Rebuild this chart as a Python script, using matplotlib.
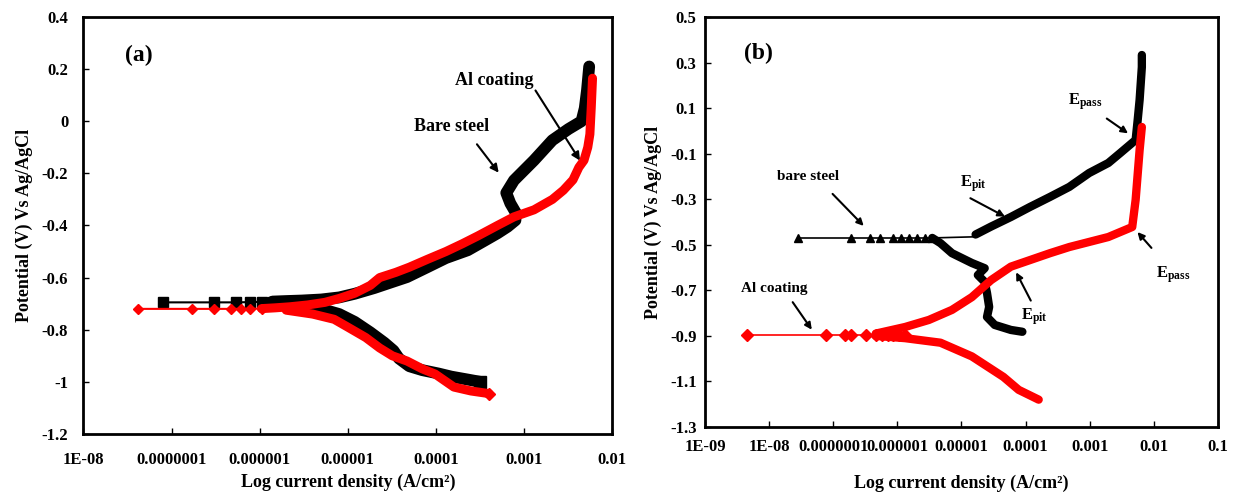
import matplotlib
matplotlib.use('Agg')
import matplotlib.pyplot as plt
import numpy as np

plt.rcParams['font.family'] = ['Liberation Serif', 'DejaVu Serif']
plt.rcParams['font.weight'] = 'bold'
plt.rcParams['mathtext.fontset'] = 'custom'
plt.rcParams['mathtext.rm'] = 'Liberation Serif'
plt.rcParams['mathtext.bf'] = 'Liberation Serif:bold'

# ---------- panel (a) data ----------
# bare steel, sparse start (square markers)
a_bare_i0 = [8e-8, 3e-7, 5.4e-7, 7.8e-7, 1.05e-6, 1.4e-6]
a_bare_e0 = [-0.695, -0.695, -0.695, -0.694, -0.693, -0.692]
# bare steel anodic branch
a_bare_i_an = [1.4e-6, 2e-6, 3e-6, 5e-6, 8e-6, 1.2e-5, 2e-5, 3e-5, 4.7e-5, 8e-5,
               1.3e-4, 2.3e-4, 3.5e-4, 5e-4, 6.5e-4, 8e-4, 8.1e-4, 7e-4, 6.3e-4,
               7.7e-4, 1.3e-3, 2.1e-3, 3.2e-3, 4.5e-3, 4.9e-3, 5.2e-3, 5.5e-3]
a_bare_e_an = [-0.692, -0.69, -0.688, -0.684, -0.676, -0.662, -0.64, -0.62, -0.598, -0.56,
               -0.525, -0.495, -0.46, -0.43, -0.405, -0.38, -0.352, -0.315, -0.275,
               -0.227, -0.15, -0.073, -0.03, 0.0, 0.05, 0.12, 0.21]
# bare steel cathodic branch
a_bare_i_ca = [3e-6, 5e-6, 8e-6, 1.2e-5, 1.8e-5, 2.6e-5, 3.3e-5, 3.8e-5, 5e-5, 7e-5,
               1.07e-4, 1.5e-4, 2.2e-4, 3.2e-4]
a_bare_e_ca = [-0.71, -0.72, -0.74, -0.77, -0.81, -0.85, -0.88, -0.91, -0.94, -0.955,
               -0.968, -0.98, -0.99, -1.0]

# Al coating, sparse start (diamond markers)
a_al_i0 = [4.2e-8, 1.7e-7, 3e-7, 4.7e-7, 6.2e-7, 7.8e-7, 1.05e-6]
a_al_e0 = [-0.72, -0.72, -0.72, -0.72, -0.72, -0.72, -0.719]
a_al_i_an = [1.05e-6, 1.5e-6, 2.2e-6, 3.5e-6, 5.5e-6, 8e-6, 1.2e-5, 1.8e-5, 2.3e-5,
             3.5e-5, 5e-5, 8e-5, 1.3e-4, 2e-4, 3e-4, 5e-4, 7.7e-4, 1.3e-3, 2.1e-3,
             2.8e-3, 3.6e-3, 4.2e-3, 4.8e-3, 5.3e-3, 5.6e-3, 5.8e-3, 6e-3]
a_al_e_an = [-0.719, -0.716, -0.712, -0.705, -0.695, -0.68, -0.66, -0.63, -0.6,
             -0.58, -0.56, -0.53, -0.5, -0.47, -0.44, -0.4, -0.367, -0.34, -0.3,
             -0.265, -0.225, -0.177, -0.15, -0.1, -0.05, 0.05, 0.165]
a_al_i_ca = [2e-6, 4e-6, 7e-6, 1e-5, 1.6e-5, 2.3e-5, 3.2e-5, 4.7e-5, 7e-5, 9.8e-5,
             1.6e-4, 2.5e-4, 4e-4]
a_al_e_ca = [-0.725, -0.74, -0.76, -0.79, -0.83, -0.87, -0.9, -0.92, -0.95, -0.97,
             -1.02, -1.035, -1.045]

a_xticks = [1e-8, 1e-7, 1e-6, 1e-5, 1e-4, 1e-3, 1e-2]
a_xlabels = ['1E-08', '0.0000001', '0.000001', '0.00001', '0.0001', '0.001', '0.01']
a_yticks = [-1.2, -1.0, -0.8, -0.6, -0.4, -0.2, 0.0, 0.2, 0.4]
a_ylabels = ['-1.2', '-1', '-0.8', '-0.6', '-0.4', '-0.2', '0', '0.2', '0.4']

# ---------- panel (b) data ----------
b_bare_i0 = [2.8e-8, 1.86e-7, 3.7e-7, 5.4e-7, 8.7e-7, 1.15e-6, 1.5e-6, 2e-6, 2.7e-6, 3.5e-6]
b_bare_e0 = [-0.47] * 10
b_bare_i_line = [3.5e-6, 1.66e-5]
b_bare_e_line = [-0.47, -0.465]
b_bare_i_an = [1.66e-5, 2.9e-5, 5.9e-5, 1.17e-4, 2.4e-4, 4.8e-4, 9.8e-4, 1.95e-3,
               3.0e-3, 5.2e-3, 5.6e-3, 6.0e-3, 6.5e-3, 6.5e-3]
b_bare_e_an = [-0.455, -0.42, -0.378, -0.334, -0.29, -0.246, -0.185, -0.141,
               -0.097, -0.04, 0.048, 0.136, 0.28, 0.333]
b_bare_i_ca = [3.5e-6, 4.7e-6, 7.1e-6, 1.45e-5, 2.3e-5, 1.8e-5, 2.3e-5, 2.5e-5,
               2.7e-5, 2.5e-5, 3.3e-5, 5.9e-5, 8.9e-5]
b_bare_e_ca = [-0.47, -0.493, -0.537, -0.58, -0.603, -0.633, -0.663, -0.712,
               -0.773, -0.817, -0.852, -0.874, -0.882]

b_al_i0 = [4.5e-9, 7.8e-8, 1.5e-7, 1.86e-7, 3.2e-7, 4.6e-7, 5.8e-7, 7.1e-7,
           8.7e-7, 1.07e-6, 1.32e-6]
b_al_e0 = [-0.895] * 11
b_al_i_an = [4.6e-7, 1.32e-6, 3.1e-6, 7.1e-6, 1.45e-5, 2.9e-5, 5.9e-5, 2.4e-4,
             4.8e-4, 1.95e-3, 4.6e-3, 5.2e-3, 6.0e-3, 6.5e-3]
b_al_e_an = [-0.89, -0.861, -0.83, -0.786, -0.73, -0.655, -0.596, -0.537,
             -0.51, -0.466, -0.422, -0.303, -0.084, 0.017]
b_al_i_ca = [4.6e-7, 1.32e-6, 4.7e-6, 1.45e-5, 4.5e-5, 7.8e-5, 1.6e-4]
b_al_e_ca = [-0.9, -0.91, -0.93, -0.99, -1.08, -1.137, -1.18]

b_xticks = [1e-9, 1e-8, 1e-7, 1e-6, 1e-5, 1e-4, 1e-3, 1e-2, 1e-1]
b_xlabels = ['1E-09', '1E-08', '0.0000001', '0.000001', '0.00001', '0.0001',
             '0.001', '0.01', '0.1']
b_yticks = [-1.3, -1.1, -0.9, -0.7, -0.5, -0.3, -0.1, 0.1, 0.3, 0.5]
b_ylabels = ['-1.3', '-1.1', '-0.9', '-0.7', '-0.5', '-0.3', '-0.1', '0.1', '0.3', '0.5']


fig = plt.figure(figsize=(12.33, 4.99), dpi=100)
ax1 = fig.add_axes([0.0677, 0.1303, 0.4287, 0.8357])
ax2 = fig.add_axes([0.5718, 0.1443, 0.416, 0.8217])


def style_axes(ax, xt, xl, yt, yl, fs, xpad, ypad, xlpad):
    ax.set_xscale('log')
    ax.set_xticks(xt)
    ax.set_xticklabels(xl, fontsize=fs, fontweight='bold')
    ax.minorticks_off()
    ax.set_yticks(yt)
    ax.set_yticklabels(yl, fontsize=fs, fontweight='bold')
    ax.tick_params(direction='in', length=4, width=1, top=False, right=False)
    ax.tick_params(axis='x', pad=xpad)
    ax.tick_params(axis='y', pad=ypad)
    for s in ax.spines.values():
        s.set_linewidth(2)
    ax.set_xlabel('Log current density (A/cm²)', fontsize=13, fontweight='bold', labelpad=xlpad)
    ax.set_ylabel('Potential (V) Vs Ag/AgCl', fontsize=13, fontweight='bold', labelpad=6)


# panel (a)
ax1.plot(a_bare_i0, a_bare_e0, '-', color='black', lw=1.5, marker='s', ms=7, zorder=3)
ax1.plot(a_bare_i_an, a_bare_e_an, '-', color='black', lw=8.5, solid_capstyle='round', zorder=3)
ax1.plot(a_bare_i_ca, a_bare_e_ca, '-', color='black', lw=8.5, solid_capstyle='round', zorder=3)
ax1.plot(a_bare_i_ca[-1:], a_bare_e_ca[-1:], 's', color='black', ms=8, zorder=3)
ax1.plot(a_al_i0, a_al_e0, '-', color='red', lw=1.5, marker='D', ms=5, zorder=4)
ax1.plot(a_al_i_an, a_al_e_an, '-', color='red', lw=6.5, solid_capstyle='round', zorder=4)
ax1.plot(a_al_i_ca, a_al_e_ca, '-', color='red', lw=6.5, solid_capstyle='round', zorder=4)
ax1.plot(a_al_i_ca[-1:], a_al_e_ca[-1:], 'D', color='red', ms=6, zorder=4)
ax1.set_xlim(1e-8, 1e-2)
ax1.set_ylim(-1.2, 0.4)
style_axes(ax1, a_xticks, a_xlabels, a_yticks, a_ylabels, 12, 13, 11, 4)

arrow = dict(arrowstyle='-|>', color='black', lw=1.5, mutation_scale=12)
ax1.text(4.2e-8, 0.254, '(a)', fontsize=17, fontweight='bold', ha='center', va='center')
ax1.text(4.6e-4, 0.156, 'Al coating', fontsize=13, fontweight='bold', ha='center', va='center')
ax1.annotate('', xy=(4.5e-3, -0.16), xytext=(1.3e-3, 0.127), arrowprops=arrow)
ax1.text(1.5e-4, -0.022, 'Bare steel', fontsize=13, fontweight='bold', ha='center', va='center')
ax1.annotate('', xy=(5.4e-4, -0.206), xytext=(2.8e-4, -0.08), arrowprops=arrow)

# panel (b)
ax2.plot(b_bare_i0, b_bare_e0, '-', color='black', lw=1.2, marker='^', ms=6, zorder=3)
ax2.plot(b_bare_i_line, b_bare_e_line, '-', color='black', lw=1.2, zorder=3)
ax2.plot(b_bare_i_an, b_bare_e_an, '-', color='black', lw=6, solid_capstyle='round', zorder=3)
ax2.plot(b_bare_i_ca, b_bare_e_ca, '-', color='black', lw=6, solid_capstyle='round', zorder=3)
ax2.plot(b_al_i0, b_al_e0, '-', color='red', lw=1.2, marker='D', ms=6, zorder=4)
ax2.plot(b_al_i_an, b_al_e_an, '-', color='red', lw=6, solid_capstyle='round', zorder=4)
ax2.plot(b_al_i_ca, b_al_e_ca, '-', color='red', lw=6, solid_capstyle='round', zorder=4)
ax2.set_xlim(1e-9, 1e-1)
ax2.set_ylim(-1.3, 0.5)
style_axes(ax2, b_xticks, b_xlabels, b_yticks, b_ylabels, 12, 9, 6, 14)

arrow2 = dict(arrowstyle='-|>', color='black', lw=1.5, mutation_scale=10)
ax2.text(6.9e-9, 0.342, '(b)', fontsize=17, fontweight='bold', ha='center', va='center')
ax2.text(8.5e-4, 0.13, r'$\mathbf{E_{pass}}$', fontsize=12, ha='center', va='center')
ax2.annotate('', xy=(4.3e-3, -0.018), xytext=(1.7e-3, 0.061), arrowprops=arrow2)
ax2.text(1.55e-5, -0.23, r'$\mathbf{E_{pit}}$', fontsize=12, ha='center', va='center')
ax2.annotate('', xy=(5.2e-5, -0.382), xytext=(1.26e-5, -0.29), arrowprops=arrow2)
ax2.text(4e-8, -0.202, 'bare steel', fontsize=11, fontweight='bold', ha='center', va='center')
ax2.annotate('', xy=(3.2e-7, -0.426), xytext=(9.1e-8, -0.268), arrowprops=arrow2)
ax2.text(1.2e-8, -0.69, 'Al coating', fontsize=11, fontweight='bold', ha='center', va='center')
ax2.annotate('', xy=(4.9e-8, -0.883), xytext=(2.2e-8, -0.742), arrowprops=arrow2)
ax2.text(2.0e-2, -0.63, r'$\mathbf{E_{pass}}$', fontsize=12, ha='center', va='center')
ax2.annotate('', xy=(5.2e-3, -0.435), xytext=(9.8e-3, -0.523), arrowprops=arrow2)
ax2.text(1.35e-4, -0.815, r'$\mathbf{E_{pit}}$', fontsize=12, ha='center', va='center')
ax2.annotate('', xy=(6.8e-5, -0.61), xytext=(1.26e-4, -0.756), arrowprops=arrow2)

fig.savefig('out.png', dpi=100)
